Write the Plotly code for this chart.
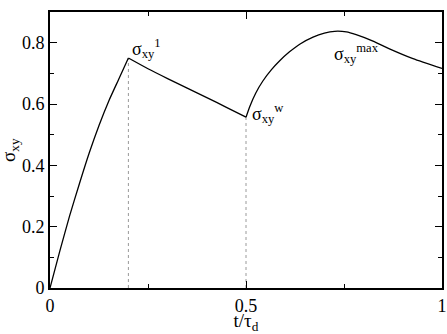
import plotly.graph_objects as go

# Rise segment (0 -> first peak)
rise_t = [0, 0.025, 0.05, 0.075, 0.1, 0.125, 0.15, 0.175, 0.2]
rise_s = [0, 0.12, 0.235, 0.34, 0.44, 0.53, 0.61, 0.68, 0.75]
# Decay segment (first peak -> w)
decay_t = [0.2, 0.25, 0.3, 0.35, 0.4, 0.45, 0.5]
decay_s = [0.75, 0.715, 0.683, 0.652, 0.621, 0.589, 0.557]
# Second rise (w -> max -> end)
rise2_t = [0.5, 0.51, 0.525, 0.543, 0.565, 0.586, 0.611, 0.637, 0.671, 0.7,
           0.726, 0.756, 0.781, 0.824, 0.866, 0.926, 1.0]
rise2_s = [0.557, 0.593, 0.636, 0.675, 0.712, 0.741, 0.770, 0.795, 0.818, 0.831,
           0.837, 0.835, 0.826, 0.805, 0.780, 0.748, 0.716]

mark_t = [0.2, 0.5]
mark_s = [0.75, 0.557]

labels = ["σ<sub>xy</sub><sup>1</sup>", "σ<sub>xy</sub><sup>w</sup>", "σ<sub>xy</sub><sup>max</sup>"]
label_t = [0.204, 0.51, 0.72]
label_s = [0.78, 0.57, 0.765]

x_ticks = [0, 0.5, 1]
x_ticklabels = ["0", "0.5", "1"]
y_ticks = [0, 0.2, 0.4, 0.6, 0.8]
y_ticklabels = ["0", "0.2", "0.4", "0.6", "0.8"]

FONT = "Liberation Serif"

fig = go.Figure()
for xs, ys in [(rise_t, rise_s), (decay_t, decay_s), (rise2_t, rise2_s)]:
    fig.add_trace(go.Scatter(x=xs, y=ys, mode="lines",
                             line=dict(color="black", width=1.3, shape="spline", smoothing=0.6),
                             showlegend=False, hoverinfo="skip"))

for t, s in zip(mark_t, mark_s):
    fig.add_shape(type="line", x0=t, x1=t, y0=0, y1=s, xref="x", yref="y",
                  line=dict(color="#9a9a9a", width=1, dash="dot"), layer="below")

for txt, t, s in zip(labels, label_t, label_s):
    fig.add_annotation(x=t, y=s, xref="x", yref="y", text=txt, showarrow=False,
                       xanchor="left", yanchor="middle",
                       font=dict(family=FONT, size=18, color="black"))

# y-axis title as a rotated annotation near the left edge
fig.add_annotation(x=0, y=0.5, xref="paper", yref="paper", xshift=-40, text="σ<sub>xy</sub>",
                   textangle=-90, showarrow=False, xanchor="center", yanchor="middle",
                   font=dict(family=FONT, size=19, color="black"))

axis_common = dict(showgrid=False, zeroline=False, showline=True, linecolor="black",
                   linewidth=2, mirror="ticks", ticks="inside", ticklen=7, tickwidth=1,
                   tickcolor="black", tickfont=dict(family=FONT, size=18, color="black"),
                   automargin=False)

fig.update_xaxes(range=[0, 1], tickvals=x_ticks, ticktext=x_ticklabels,
                 minor=dict(ticks="inside", ticklen=4, tickvals=[0.25, 0.75], tickcolor="black"),
                 title=dict(text="t/τ<sub>d</sub>", font=dict(family=FONT, size=19, color="black"), standoff=2),
                 **axis_common)
fig.update_yaxes(range=[0, 0.9], tickvals=y_ticks, ticktext=y_ticklabels,
                 minor=dict(ticks="inside", ticklen=4, tickvals=[0.1, 0.3, 0.5, 0.7], tickcolor="black"),
                 **axis_common)

fig.update_layout(width=447, height=334, margin=dict(l=50, r=5, t=12, b=46),
                  plot_bgcolor="white", paper_bgcolor="white")

fig.write_html("out.html")
